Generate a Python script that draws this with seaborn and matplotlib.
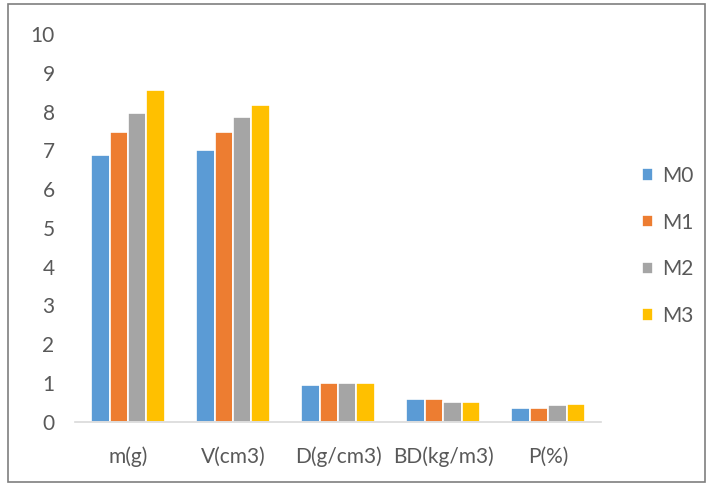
import matplotlib
matplotlib.use('Agg')
import matplotlib.pyplot as plt
from matplotlib.patches import Rectangle
import numpy as np
import pandas as pd
import seaborn as sns


PARAMS = ['m(g)', 'V(cm3)', 'D(g/cm3)', 'BD(kg/m3)', 'P(%)']
SAMPLES = ['M0', 'M1', 'M2', 'M3']
M0 = [6.88, 7.0, 0.95, 0.59, 0.36]
M1 = [7.47, 7.47, 0.99, 0.59, 0.36]
M2 = [7.97, 7.87, 0.99, 0.52, 0.43]
M3 = [8.56, 8.16, 1.01, 0.52, 0.46]
COLORS = ['#5B9BD5', '#ED7D31', '#A5A5A5', '#FFC000']


if __name__ == '__main__':
    rows = []
    for name, vals in zip(SAMPLES, [M0, M1, M2, M3]):
        for p, v in zip(PARAMS, vals):
            rows.append({'param': p, 'sample': name, 'value': v})
    df = pd.DataFrame(rows)

    sns.set_style('white')
    plt.rcParams['font.family'] = ['Lato', 'DejaVu Sans']

    fig = plt.figure(figsize=(7.11, 4.86), dpi=100)
    ax = fig.add_axes([0.106, 0.132, 0.739, 0.798])
    sns.barplot(data=df, x='param', y='value', hue='sample',
                palette=COLORS, saturation=1, width=0.7, edgecolor='white',
                linewidth=1.2, ax=ax, errorbar=None)

    ax.set_ylim(0, 10)
    ax.set_xlim(-0.5, len(PARAMS) - 0.5)
    ax.set_yticks(np.arange(0, 11, 1))
    ax.set_xlabel('')
    ax.set_ylabel('')
    for s in ['top', 'right', 'left']:
        ax.spines[s].set_visible(False)
    ax.spines['bottom'].set_color('#d9d9d9')
    ax.spines['bottom'].set_linewidth(1.2)
    ax.tick_params(axis='x', length=0, pad=18, labelsize=15,
                   labelcolor='#595959')
    ax.tick_params(axis='y', length=0, pad=15, labelsize=15,
                   labelcolor='#595959')

    handles, labels = ax.get_legend_handles_labels()
    ax.legend(handles, labels, loc='center left',
              bbox_to_anchor=(0.903, 0.494), bbox_transform=fig.transFigure,
              frameon=False, fontsize=15, labelspacing=1.28,
              borderpad=0, borderaxespad=0,
              handlelength=0.55, handleheight=0.55, handletextpad=0.4,
              labelcolor='#595959')

    fig.patches.append(Rectangle((8 / 711, 4 / 486), 697 / 711, 478 / 486,
                                 transform=fig.transFigure, fill=False,
                                 edgecolor='#7f7f7f', linewidth=1.2))

    plt.savefig('out.png', dpi=100)
